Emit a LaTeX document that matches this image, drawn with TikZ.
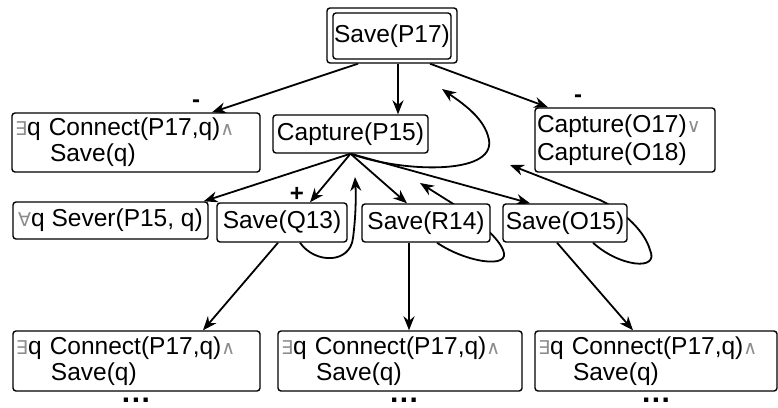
\documentclass[tikz,border=0pt]{standalone}
\usepackage{fontspec}
\setmainfont{Liberation Sans}
\newfontfamily\symfont{DejaVu Sans}
\usetikzlibrary{arrows.meta,backgrounds}
% logical connectives, set small and grey
\newcommand\lgsym[1]{{\symfont\color{black!45}\fontsize{19}{19}\selectfont #1}}

\begin{document}
\begin{tikzpicture}[x=1pt,y=-1pt,
  font=\fontsize{24.5}{26}\selectfont,
  box/.style={draw, line width=1.4pt, rounded corners=3pt, fill=white,
              inner sep=0pt, anchor=center},
  twoline/.style={box, align=left, inner xsep=3pt},
  edge/.style={line width=1.8pt, -{Stealth[length=14pt,width=11pt]}},
  sign/.style={font=\fontsize{24}{24}\selectfont\bfseries, inner sep=0pt},
  more/.style={font=\fontsize{30}{30}\selectfont\bfseries, inner sep=0pt}]
\useasboundingbox (0,0) rectangle (778,407);

% root goal, double framed
\node[box, minimum width=130, minimum height=55] (P17) at (392,35.5) {};
\node[box, minimum width=118, minimum height=46] (P17in) at (392,36) {Save(P17)};

% second row
\node[twoline, text width=242, minimum height=59] (LA) at (136,142.5)
  {\lgsym{∃}q Connect(P17,q)\lgsym{∧}\\\hspace*{35pt}Save(q)};
\node[box, minimum width=155, minimum height=38] (P15) at (350.5,134) {Capture(P15)};
\node[box, align=left, text width=176, inner xsep=2pt, minimum height=64] (O17) at (625,140)
  {Capture(O17)\lgsym{∨}\\[2pt]Capture(O18)};

% third row
\node[box, minimum width=195, minimum height=37] (Sev) at (110.5,220.5)
  {\lgsym{∀}q Sever(P15, q)};
\node[box, minimum width=130, minimum height=39] (Q13) at (282,222.5) {Save(Q13)};
\node[box, minimum width=128, minimum height=38] (R14) at (426,223) {Save(R14)};
\node[box, minimum width=124, minimum height=38] (O15) at (565,223) {Save(O15)};

% bottom row
\node[twoline, text width=241, minimum height=60] (B1) at (136.5,361)
  {\lgsym{∃}q Connect(P17,q)\lgsym{∧}\\\hspace*{35pt}Save(q)};
\node[twoline, text width=238, minimum height=60] (B2) at (400,361)
  {\lgsym{∃}q Connect(P17,q)\lgsym{∧}\\\hspace*{35pt}Save(q)};
\node[twoline, text width=236, minimum height=60] (B3) at (656,361)
  {\lgsym{∃}q Connect(P17,q)\lgsym{∧}\\\hspace*{35pt}Save(q)};

% signs and continuation dots
\node[sign] (mLA) at (196,104) {-};
\node[sign] (mO17) at (578,99) {-};
\node[sign] (pQ13) at (297,194) {+};
\node[more] (d1) at (136,400) {.\hspace{1.5pt}.\hspace{1.5pt}.};
\node[more] (d2) at (404,400) {.\hspace{1.5pt}.\hspace{1.5pt}.};
\node[more] (d3) at (656,400) {.\hspace{1.5pt}.\hspace{1.5pt}.};

% tips of the back edges
\coordinate (tP15) at (442,89);
\coordinate (tQ13) at (355,177);
\coordinate (tR14) at (420,183);
\coordinate (tO15) at (510,165);

\begin{scope}[on background layer]
  % from the root
  \draw[edge] ([xshift=-34pt]P17.south) -- ([xshift=76pt]LA.north);
  \draw[edge] ([xshift=6pt]P17.south) -- ([xshift=6pt]P17.south |- P15.north);
  \draw[edge] ([xshift=38pt]P17.south) -- ([xshift=-77pt]O17.north);
  % from Capture(P15)
  \draw[edge] (P15.south) -- ([xshift=-5pt]Sev.north east);
  \draw[edge] (P15.south) -- ([xshift=28pt]Q13.north);
  \draw[edge] (P15.south) -- ([xshift=-19pt]R14.north);
  \draw[edge] (P15.south) -- ([xshift=-35pt]O15.north);
  % down to the bottom row
  \draw[edge] ([xshift=-4pt]Q13.south) -- ([xshift=66.5pt]B1.north);
  \draw[edge] ([xshift=-17pt]R14.south) -- ([xshift=-17pt]R14.south |- B2.north);
  \draw[edge] ([xshift=-8pt]O15.south) -- ([xshift=-23pt]B3.north);
  % back edges
  \draw[edge] (P15.south) .. controls (400,172) and (495,176) .. (489,140)
    .. controls (485,118) and (462,103) .. (tP15);
  \draw[edge] ([xshift=18pt]Q13.south) .. controls (315,264) and (350,264) .. (353,238)
    .. controls (356,215) and (356,195) .. (tQ13);
  \draw[edge] ([xshift=11pt]R14.south) .. controls (465,262) and (512,270) .. (503,250)
    .. controls (497,235) and (470,214) .. (447,200) -- (tR14);
  \draw[edge] ([xshift=28pt]O15.south) .. controls (618,266) and (660,272) .. (650,250)
    .. controls (645,232) and (625,212) .. (600,200) -- (tO15);
\end{scope}
\end{tikzpicture}
\end{document}
